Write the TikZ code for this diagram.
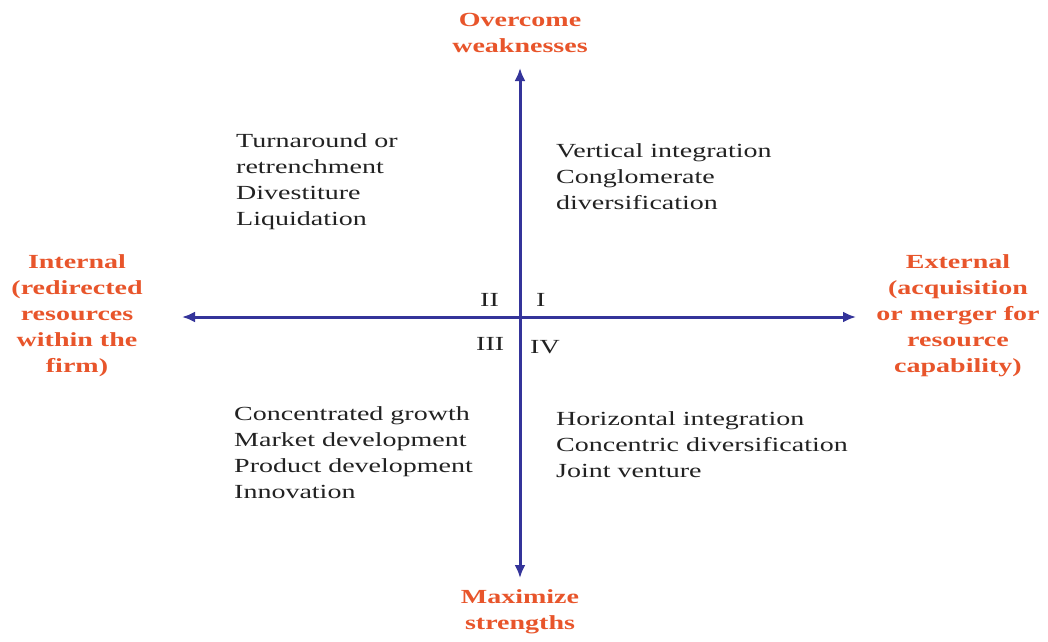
\documentclass[tikz,border=0pt]{standalone}
\usepackage{fontspec}
\setmainfont{Liberation Serif}[FakeStretch=1.4]
\usetikzlibrary{arrows.meta}
\definecolor{axisblue}{HTML}{34349A}
\definecolor{labelorange}{HTML}{E8552B}
\definecolor{bodygray}{HTML}{222222}
\begin{document}
\begin{tikzpicture}[x=1pt,y=-1pt,
  axisline/.style={draw=axisblue,line width=3pt,{Latex[length=13pt,width=11pt]}-{Latex[length=13pt,width=11pt]}},
  axislabel/.style={text=labelorange,font=\fontsize{20}{26}\selectfont\bfseries,align=center,inner sep=0pt,anchor=north},
  body/.style={text=bodygray,font=\fontsize{20}{26}\selectfont,align=left,inner sep=0pt,anchor=north west},
  roman/.style={text=bodygray,font=\fontsize{20}{26}\selectfont,inner sep=0pt,anchor=base west}]
\useasboundingbox[fill=white] (0,0) rectangle (1048,641);
\coordinate (top) at (520,68);
\coordinate (bot) at (520,578);
\coordinate (lft) at (182,317);
\coordinate (rgt) at (856,317);
\draw[axisline] (bot) -- (top);
\draw[axisline] (lft) -- (rgt);
% axis labels
\node[axislabel] (ltop) at (520,13) {Overcome\\weaknesses};
\node[axislabel] (lbot) at (520,589) {Maximize\\strengths};
\node[axislabel] (lleft) at (77,254) {Internal\\(redirected\\resources\\within the\\firm)};
\node[axislabel] (lright) at (958,254) {External\\(acquisition\\or merger for\\resource\\capability)};
% quadrant texts
\node[body] (q2) at (236,133) {Turnaround or\\retrenchment\\Divestiture\\Liquidation};
\node[body] (q1) at (556,143) {Vertical integration\\Conglomerate\\diversification};
\node[body] (q3) at (234,406) {Concentrated growth\\Market development\\Product development\\Innovation};
\node[body] (q4) at (556,411) {Horizontal integration\\Concentric diversification\\Joint venture};
% roman numerals
\node[roman] (rII) at (480,306) {II};
\node[roman] (rI) at (536,306) {I};
\node[roman] (rIII) at (476,350) {III};
\node[roman] (rIV) at (530,353) {IV};
\end{tikzpicture}
\end{document}
